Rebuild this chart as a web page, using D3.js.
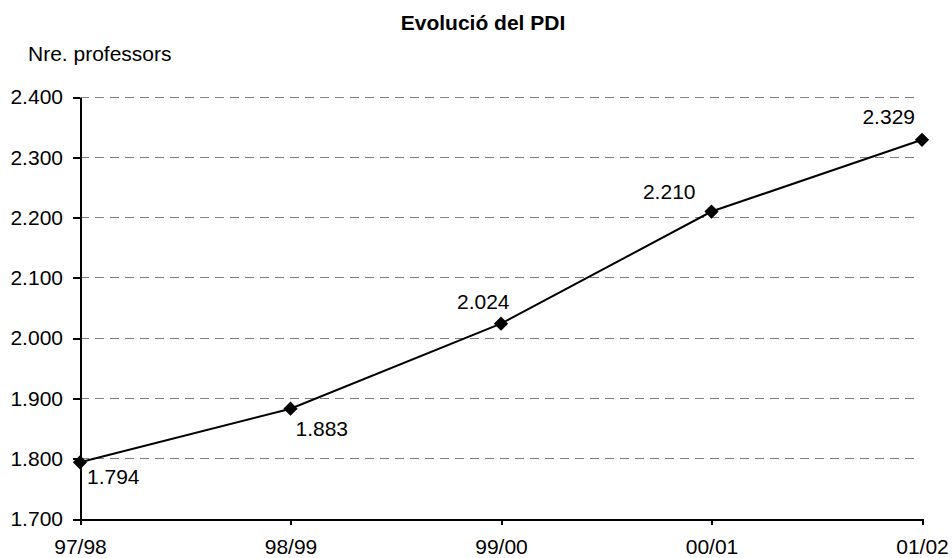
<!DOCTYPE html>
<html>
<head>
<meta charset="utf-8">
<title>Evolució del PDI</title>
<style>
  body { margin: 0; background: #fff; }
  svg text { font-family: "Liberation Sans", Arial, sans-serif; fill: #000; }
  .axis path, .axis line { stroke: #000; stroke-width: 2; shape-rendering: crispEdges; }
  .axis text { font-size: 21px; }
  .grid line { stroke: #808080; stroke-width: 1; stroke-dasharray: 9, 6; shape-rendering: crispEdges; }
  .title { font-size: 21px; font-weight: bold; }
  .label { font-size: 21px; }
</style>
</head>
<body>
<div id="chart"></div>
<script src="https://cdnjs.cloudflare.com/ajax/libs/d3/7.8.5/d3.min.js"></script>
<script>
var years = ["97/98", "98/99", "99/00", "00/01", "01/02"];
var teachers = [1794, 1883, 2024, 2210, 2329];
var yTicks = [1700, 1800, 1900, 2000, 2100, 2200, 2300, 2400];
// label offsets: dx, dy, anchor
var labelPos = [
  [7, 22, "start"],
  [5, 27, "start"],
  [-44, -15, "start"],
  [-16, -13, "end"],
  [-7, -16, "end"]
];

var width = 952, height = 558;
var margin = { left: 80, right: 30, top: 97, bottom: 39 };

var svg = d3.select("#chart").append("svg")
  .attr("width", width)
  .attr("height", height);

var x = d3.scalePoint().domain(years).range([margin.left, width - margin.right]);
var y = d3.scaleLinear().domain([1700, 2400]).range([height - margin.bottom, margin.top]);

var fmtVal = function(v) { return d3.format(",")(v).replace(",", "."); };

svg.append("g")
  .attr("class", "grid")
  .selectAll("line")
  .data(yTicks.slice(1))
  .enter().append("line")
  .attr("x1", margin.left)
  .attr("x2", width - margin.right - 4)
  .attr("y1", function(d) { return y(d); })
  .attr("y2", function(d) { return y(d); });

svg.append("g")
  .attr("class", "axis")
  .attr("transform", "translate(" + margin.left + ",0)")
  .call(d3.axisLeft(y).tickValues(yTicks).tickFormat(fmtVal).tickSize(7).tickSizeOuter(0).tickPadding(10));

svg.append("g")
  .attr("class", "axis")
  .attr("transform", "translate(0," + y(1700) + ")")
  .call(d3.axisBottom(x).tickSize(6).tickSizeOuter(0).tickPadding(14));

var line = d3.line()
  .x(function(d, i) { return x(years[i]); })
  .y(function(d) { return y(d); });

svg.append("path")
  .datum(teachers)
  .attr("fill", "none")
  .attr("stroke", "#000")
  .attr("stroke-width", 2)
  .attr("d", line);

svg.selectAll(".pt")
  .data(teachers)
  .enter().append("path")
  .attr("class", "pt")
  .attr("d", d3.symbol().type(d3.symbolDiamond2).size(130))
  .attr("transform", function(d, i) { return "translate(" + x(years[i]) + "," + y(d) + ")"; })
  .attr("fill", "#000");

svg.selectAll(".label")
  .data(teachers)
  .enter().append("text")
  .attr("class", "label")
  .attr("x", function(d, i) { return x(years[i]) + labelPos[i][0]; })
  .attr("y", function(d, i) { return y(d) + labelPos[i][1]; })
  .attr("text-anchor", function(d, i) { return labelPos[i][2]; })
  .text(fmtVal);

svg.append("text")
  .attr("class", "title")
  .attr("x", 483)
  .attr("y", 30)
  .attr("text-anchor", "middle")
  .text("Evolució del PDI");

svg.append("text")
  .attr("class", "label")
  .attr("x", 28)
  .attr("y", 61)
  .text("Nre. professors");
</script>
</body>
</html>
